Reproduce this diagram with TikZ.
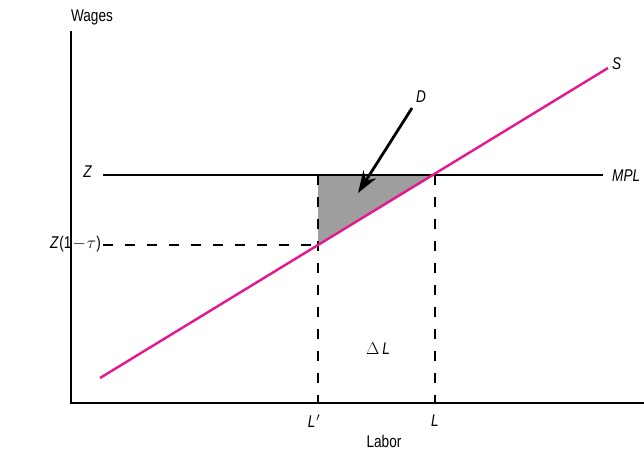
\documentclass[tikz,border=0pt]{standalone}
\usepackage{fontspec}
\setmainfont[FakeStretch=0.8]{Liberation Sans}
\usetikzlibrary{arrows.meta}
\definecolor{supplypink}{HTML}{E8168C}
\tikzset{
  axisline/.style={line width=2.8pt, black},
  guide/.style={line width=2.8pt, dash pattern=on 10pt off 12pt},
  lbl/.style={font=\fontsize{17}{19}\selectfont, inner sep=1pt}
}
\begin{document}
\begin{tikzpicture}[x=1pt, y=-1pt]
  \useasboundingbox (0,0) rectangle (644,451);

  % Axes
  \coordinate (origin) at (71,403);
  \coordinate (ytop) at (71,31);
  \coordinate (xend) at (644,403);
  \draw[axisline] (ytop) -- (origin) -- (xend);
  \node[lbl] (wages) at (92,17) {Wages};
  \node[lbl] (labor) at (384,441) {Labor};

  % Key points
  \coordinate (zleft) at (103,175);
  \coordinate (zright) at (603,175);
  \coordinate (ztop) at (318,175);
  \coordinate (lpt) at (318,245);
  \coordinate (ztleft) at (103,245);
  \coordinate (lprimebase) at (318,403);
  \coordinate (lcross) at (435,175);
  \coordinate (lbase) at (435,403);
  \coordinate (sstart) at (100,378);
  \coordinate (send) at (608,68);

  % Shaded loss
  \fill[black!38] (ztop) -- (lcross) -- (lpt) -- cycle;

  % Wage lines
  \draw[axisline] (zleft) -- (zright);
  \draw[guide] (ztleft) -- (lpt);
  \draw[guide] (ztop) -- (lprimebase);
  \draw[guide] (lcross) -- (lbase);

  % Supply
  \draw[supplypink, line width=2.4pt] (sstart) -- (send);

  % Labels
  \node[lbl, anchor=east] (zlbl) at (93,172) {\itshape Z};
  \node[lbl, anchor=east] (ztlbl) at (102,244) {{\itshape Z}\kern1pt(1\kern1pt$-$\kern1pt$\tau$)};
  \node[lbl, anchor=west] (mpl) at (611,176) {\itshape MPL};
  \node[lbl, anchor=west] (slbl) at (611,64) {\itshape S};
  \node[lbl] (dlbl) at (421,97) {\itshape D};
  \node[lbl] (dl) at (378,349) {$\Delta$\kern3pt\itshape L};
  \node[lbl] (lprime) at (314,421) {\itshape L\kern1pt$'$};
  \node[lbl] (llbl) at (435,421) {\itshape L};

  % Pointer
  \coordinate (dtail) at (412,108);
  \coordinate (dhead) at (358,193);
  \draw[line width=2.8pt, -{Stealth[length=22pt, width=15pt]}] (dtail) -- (dhead);
\end{tikzpicture}
\end{document}
